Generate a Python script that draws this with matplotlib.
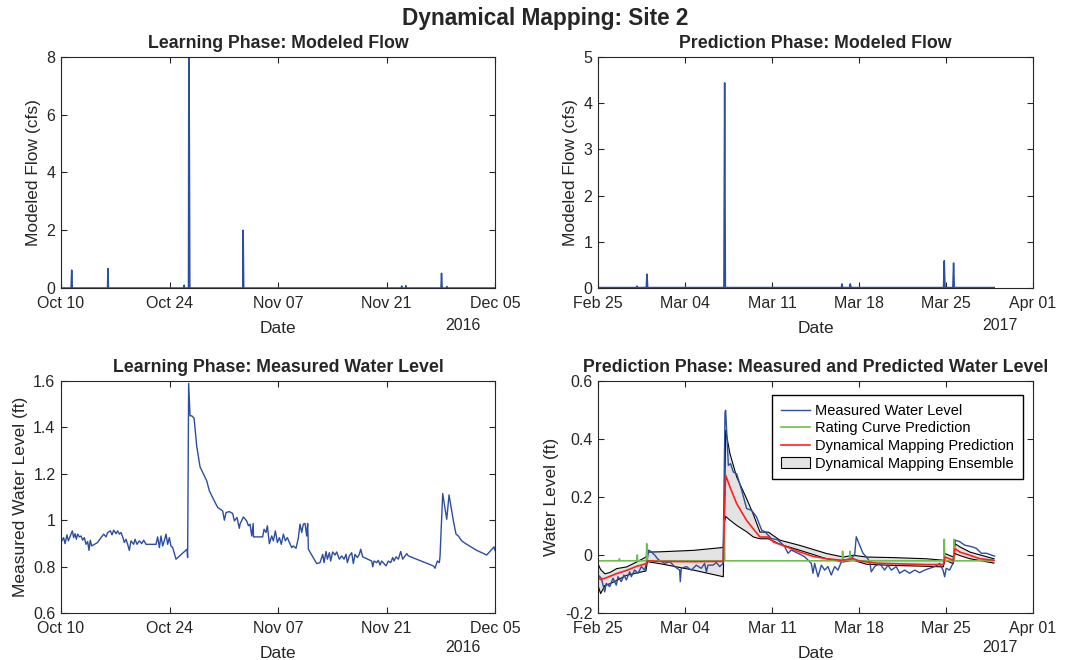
import numpy as np
import pandas as pd
import matplotlib
matplotlib.use('Agg')
import matplotlib.pyplot as plt
import matplotlib.dates as mdates
from matplotlib.patches import Patch

plt.rcParams['font.family'] = ['Liberation Sans', 'DejaVu Sans']

# ---- data (days after start date) ----
learn_start = pd.Timestamp('2016-10-10')
pred_start = pd.Timestamp('2017-02-25')

# learning phase: modeled flow (cfs)
lflow_days = [0, 1.30, 1.38, 1.46, 6.00, 6.06, 6.12, 15.85, 15.90, 15.95,
              16.45, 16.50, 16.58, 16.62, 23.45, 23.50, 23.58,
              43.90, 43.96, 44.02, 44.45, 44.50, 44.56,
              49.03, 49.10, 49.18, 49.75, 49.80, 49.85, 56]
lflow_vals = [0, 0, 0.62, 0, 0, 0.67, 0, 0, 0.10, 0,
              0, 9.5, 3.7, 0, 0, 2.0, 0,
              0, 0.07, 0, 0, 0.08, 0,
              0, 0.51, 0, 0, 0.05, 0, 0]

# learning phase: measured water level (ft)
llevel_days = [0.00, 0.34, 0.52, 0.77, 0.95, 1.20, 1.46, 1.63, 1.81, 1.98, 2.15, 2.37,
               2.58, 2.80, 3.01, 3.23, 3.44, 3.61, 3.78, 3.96, 4.73, 5.16, 5.51, 5.81,
               6.02, 6.37, 6.58, 6.80, 7.10, 7.31, 7.53, 7.74, 7.96, 8.17, 8.39, 8.60,
               8.82, 9.03, 9.38, 9.55, 9.81, 10.11, 10.41, 10.67, 10.97, 12.26, 12.47,
               12.69, 12.90, 13.12, 13.33, 13.55, 13.76, 13.98, 14.19, 14.41, 14.84,
               16.26, 16.34, 16.47, 16.65, 16.87, 17.17, 17.51, 17.94, 18.80, 19.14,
               19.78, 20.22, 20.86, 21.08, 21.29, 21.72, 22.15, 22.37, 22.71, 23.01,
               23.10, 23.53, 23.96, 24.18, 24.39, 24.61, 24.80, 24.84, 26.02, 26.20,
               26.45, 26.63, 26.88, 27.19, 27.40, 27.66, 27.92, 28.18, 28.43, 28.69,
               28.95, 29.21, 29.47, 29.77, 29.98, 30.33, 30.63, 30.84, 31.06, 31.27,
               31.49, 31.70, 31.83, 31.92, 32.99, 33.42, 33.77, 33.94, 34.20, 34.37,
               34.63, 34.80, 35.06, 35.36, 35.57, 35.92, 36.22, 36.52, 36.78, 36.95,
               37.21, 37.51, 37.72, 37.94, 38.24, 38.50, 38.67, 38.93, 40.09, 40.22,
               40.39, 40.73, 40.95, 41.16, 41.38, 41.68, 41.94, 42.24, 42.54, 42.80,
               42.97, 43.23, 43.53, 43.83, 44.09, 44.39, 44.61, 44.82, 48.05, 48.26,
               48.56, 48.82, 48.91, 49.25, 49.77, 50.07, 50.63, 50.97, 51.27, 51.70,
               52.35, 53.64, 54.93, 55.87, 56.00]
llevel_vals = [0.904, 0.925, 0.899, 0.937, 0.911, 0.932, 0.954, 0.925, 0.942, 0.918, 0.940, 0.928,
               0.932, 0.914, 0.925, 0.896, 0.908, 0.870, 0.914, 0.889, 0.904, 0.925, 0.940, 0.928,
               0.947, 0.954, 0.937, 0.957, 0.942, 0.954, 0.940, 0.947, 0.928, 0.904, 0.918, 0.896,
               0.870, 0.911, 0.896, 0.918, 0.896, 0.911, 0.899, 0.914, 0.896, 0.896, 0.928,
               0.882, 0.932, 0.889, 0.911, 0.940, 0.896, 0.925, 0.889, 0.882, 0.832,
               0.875, 0.839, 1.590, 1.450, 1.450, 1.440, 1.320, 1.230, 1.170, 1.127,
               1.083, 1.055, 1.040, 1.000, 1.033, 1.037, 1.029, 0.997, 1.012, 0.965,
               0.983, 1.014, 0.997, 0.976, 0.983, 0.932, 0.986, 0.928, 0.928, 0.961,
               0.947, 0.976, 0.899, 0.932, 0.911, 0.954, 0.904, 0.925, 0.896, 0.940,
               0.911, 0.925, 0.904, 0.882, 0.889, 0.879, 0.925, 0.983, 0.947, 0.983,
               0.986, 0.932, 0.986, 0.875, 0.813, 0.817, 0.853, 0.817, 0.865, 0.832,
               0.860, 0.824, 0.863, 0.850, 0.863, 0.832, 0.846, 0.832, 0.853, 0.817,
               0.846, 0.860, 0.813, 0.853, 0.839, 0.853, 0.875, 0.842, 0.824, 0.799,
               0.824, 0.817, 0.827, 0.807, 0.824, 0.813, 0.803, 0.824, 0.817, 0.839,
               0.824, 0.842, 0.832, 0.865, 0.832, 0.846, 0.856, 0.846, 0.803, 0.793,
               0.824, 0.817, 0.846, 1.115, 1.004, 1.109, 0.997, 0.940, 0.932, 0.911,
               0.896, 0.870, 0.850, 0.885, 0.870]

# prediction phase: modeled flow (cfs)
pflow_days = [0, 3.08, 3.14, 3.20, 3.88, 3.94, 4.00, 10.13, 10.19, 10.25,
              19.58, 19.63, 19.68, 20.24, 20.30, 20.36,
              27.80, 27.86, 27.92, 28.55, 28.61, 28.67, 31.88]
pflow_vals = [0.01, 0.01, 0.04, 0.01, 0.01, 0.30, 0.01, 0.01, 4.44, 0.01,
              0.01, 0.09, 0.01, 0.01, 0.09, 0.01,
              0.01, 0.59, 0.01, 0.01, 0.54, 0.01, 0.01]

# prediction phase: measured water level (ft)
meas_days = [0.00, 0.27, 0.54, 0.67, 0.94, 1.21, 1.47, 1.61, 1.88, 2.09, 2.28, 2.55,
             2.68, 2.95, 3.22, 3.49, 3.75, 3.94, 4.08, 4.29, 4.56, 4.83, 5.36, 5.77,
             6.17, 6.57, 6.62, 6.70, 7.11, 7.51, 7.91, 8.31, 8.58, 8.72, 8.85, 9.25,
             9.52, 9.79, 10.06, 10.22, 10.27, 10.49, 10.67, 10.89, 11.16, 11.56, 11.96,
             12.36, 12.76, 13.17, 13.41, 13.94, 14.48, 15.02, 15.29, 15.55, 16.09, 16.63,
             17.16, 17.30, 17.43, 17.70, 17.97, 18.24, 18.50, 18.77, 19.04, 19.31, 19.58,
             19.98, 20.38, 20.65, 20.78, 21.05, 21.32, 21.59, 21.86, 21.99, 22.26, 22.66,
             23.06, 23.33, 23.60, 24.00, 24.27, 24.67, 25.07, 25.48, 25.88, 26.28, 26.68,
             27.09, 27.49, 27.76, 27.89, 28.02, 28.29, 28.56, 28.75, 29.10, 29.50, 30.03,
             30.44, 30.84, 31.24, 31.64, 31.91]
meas_vals = [-0.069, -0.080, -0.127, -0.098, -0.109, -0.080, -0.104, -0.075, -0.092, -0.069, -0.086, -0.058,
             -0.075, -0.052, -0.063, -0.040, -0.052, -0.023, 0.017, 0.011, 0.000, -0.015, -0.029, -0.023,
             -0.040, -0.052, -0.092, -0.046, -0.040, -0.052, -0.035, -0.046, -0.029, -0.058, -0.035, -0.035,
             -0.026, -0.040, -0.029, 0.493, 0.499, 0.309, 0.315, 0.286, 0.280, 0.223, 0.160,
             0.154, 0.131, 0.085, 0.081, 0.057, 0.052, 0.029, 0.006, 0.017, 0.006, -0.006,
             -0.029, -0.063, -0.029, -0.075, -0.035, -0.052, -0.040, -0.069, -0.040, -0.052, -0.023,
             -0.017, -0.012, 0.000, 0.063, 0.034, 0.006, -0.006, -0.023, -0.058, -0.040, -0.029,
             -0.052, -0.035, -0.052, -0.040, -0.063, -0.052, -0.063, -0.052, -0.061, -0.052, -0.046,
             -0.040, -0.029, -0.052, -0.075, -0.046, -0.052, -0.029, 0.051, 0.046, 0.034, 0.029,
             0.023, 0.006, 0.006, 0.000, -0.004]

# rating curve prediction (ft)
rating_days = [0, 1.70, 1.72, 1.75, 3.13, 3.16, 3.19, 3.89, 3.92, 3.97, 10.12, 10.16, 10.20,
               19.65, 19.68, 19.71, 20.24, 20.27, 20.30, 27.83, 27.86, 27.90,
               28.61, 28.64, 28.68, 31.86]
rating_vals = [-0.020, -0.020, -0.013, -0.020, -0.020, 0.0, -0.020, -0.020, 0.039, -0.020,
               -0.020, 0.119, -0.020, -0.020, 0.013, -0.020, -0.020, 0.013, -0.020,
               -0.020, 0.054, -0.020, -0.020, 0.054, -0.020, -0.020]

# dynamical mapping prediction (ft)
dm_days = [0.00, 0.21, 0.70, 1.50, 2.31, 3.11, 3.86, 3.97, 4.99, 7.67, 10.08, 10.16, 10.27,
           10.62, 11.16, 11.96, 12.76, 13.03, 13.70, 14.11, 15.18, 16.25, 17.32, 18.40,
           19.60, 20.54, 21.08, 22.42, 23.76, 26.44, 27.78, 27.92, 28.59, 28.72, 29.12,
           29.93, 30.73, 31.86]
dm_vals = [-0.076, -0.085, -0.078, -0.064, -0.053, -0.039, -0.030, -0.020, -0.022, -0.023, -0.022, 0.119, 0.275,
           0.234, 0.177, 0.119, 0.076, 0.062, 0.062, 0.045, 0.028, 0.010, -0.005, -0.013,
           -0.018, -0.013, -0.021, -0.028, -0.030, -0.033, -0.033, -0.007, -0.018, 0.022, 0.010,
           -0.001, -0.013, -0.018]

# dynamical mapping ensemble bounds (ft)
ens_days = [0.00, 0.21, 0.56, 0.97, 1.50, 2.31, 3.11, 3.86, 3.97, 4.99, 7.67, 10.08, 10.16,
            10.27, 10.62, 11.16, 11.96, 12.50, 13.03, 13.70, 14.64, 16.25, 18.40, 19.74,
            20.54, 21.61, 23.76, 26.44, 27.78, 27.92, 28.59, 28.72, 29.12, 29.93, 31.86]
ens_upper = [-0.030, -0.050, -0.065, -0.060, -0.047, -0.041, -0.024, -0.007, 0.010, 0.011, 0.016, 0.026, 0.120,
             0.430, 0.349, 0.269, 0.194, 0.140, 0.079, 0.079, 0.051, 0.033, 0.005, -0.007,
             -0.001, -0.007, -0.009, -0.013, -0.018, 0.005, -0.007, 0.039, 0.028, 0.010, -0.013]
ens_lower = [-0.105, -0.133, -0.105, -0.099, -0.088, -0.070, -0.062, -0.055, -0.023, -0.030, -0.052, -0.075, 0.108,
             0.133, 0.120, 0.102, 0.080, 0.062, 0.056, 0.056, 0.037, 0.016, -0.013, -0.024,
             -0.018, -0.032, -0.036, -0.039, -0.041, -0.018, -0.030, 0.005, -0.002, -0.013, -0.028]

BLUE = '#2D4DA0'
GREEN = '#6CC04A'
RED = '#FF1F1F'
DARK = '#262626'


def to_dates(start, days):
    return start + pd.to_timedelta(np.array(days), unit='D')


def style_axes(ax, ticks):
    ax.xaxis.set_major_formatter(mdates.DateFormatter('%b %d'))
    ax.set_xticks(ticks)
    ax.set_xlim(ticks[0], ticks[-1])
    ax.tick_params(direction='in', top=True, right=True, length=4,
                   labelsize=11.5, colors=DARK, pad=4)
    ax.tick_params(axis='x', pad=6)
    for s in ax.spines.values():
        s.set_color(DARK)
        s.set_linewidth(0.8)
    ax.set_xlabel('Date', fontsize=12.5, color=DARK, labelpad=7)


learn_ticks = pd.date_range('2016-10-10', periods=5, freq='14D')
pred_ticks = pd.date_range('2017-02-25', periods=6, freq='7D')

fig = plt.figure(figsize=(10.71, 6.6), dpi=100)
fig.text(0.509, 0.972, 'Dynamical Mapping: Site 2', ha='center', va='center',
         fontsize=16.3, fontweight='bold', color=DARK)

W, H = 1071, 660
ax1 = fig.add_axes([61 / W, 1 - 288 / H, 434 / W, 231 / H])
ax2 = fig.add_axes([598 / W, 1 - 288 / H, 435 / W, 231 / H])
ax3 = fig.add_axes([61 / W, 1 - 613 / H, 434 / W, 232 / H])
ax4 = fig.add_axes([598 / W, 1 - 613 / H, 435 / W, 232 / H])

TSIZE = 12.8
TPAD = 6.5

# top left
ax1.plot(to_dates(learn_start, lflow_days), lflow_vals, color=BLUE, lw=1.1)
ax1.set_ylim(0, 8)
ax1.set_yticks([0, 2, 4, 6, 8])
ax1.set_ylabel('Modeled Flow (cfs)', fontsize=12.5, color=DARK)
ax1.set_title('Learning Phase: Modeled Flow', fontsize=TSIZE, fontweight='bold', color=DARK, pad=TPAD)
style_axes(ax1, learn_ticks)

# top right
ax2.plot(to_dates(pred_start, pflow_days), pflow_vals, color=BLUE, lw=1.1)
ax2.set_ylim(0, 5)
ax2.set_yticks([0, 1, 2, 3, 4, 5])
ax2.set_ylabel('Modeled Flow (cfs)', fontsize=12.5, color=DARK)
ax2.set_title('Prediction Phase: Modeled Flow', fontsize=TSIZE, fontweight='bold', color=DARK, pad=TPAD)
style_axes(ax2, pred_ticks)

# bottom left
ax3.plot(to_dates(learn_start, llevel_days), llevel_vals, color=BLUE, lw=1.0)
ax3.set_ylim(0.6, 1.6)
ax3.set_yticks([0.6, 0.8, 1.0, 1.2, 1.4, 1.6])
ax3.set_yticklabels(['0.6', '0.8', '1', '1.2', '1.4', '1.6'])
ax3.set_ylabel('Measured Water Level (ft)', fontsize=12.5, color=DARK)
ax3.set_title('Learning Phase: Measured Water Level', fontsize=TSIZE, fontweight='bold', color=DARK, pad=TPAD)
style_axes(ax3, learn_ticks)

# bottom right
ens_t = to_dates(pred_start, ens_days)
ax4.fill_between(ens_t, ens_lower, ens_upper, facecolor='#E3E3E3', edgecolor='none')
ax4.plot(ens_t, ens_upper, color='k', lw=0.8)
ax4.plot(ens_t, ens_lower, color='k', lw=0.8)
l1, = ax4.plot(to_dates(pred_start, meas_days), meas_vals, color=BLUE, lw=1.0)
l2, = ax4.plot(to_dates(pred_start, rating_days), rating_vals, color=GREEN, lw=1.2)
l3, = ax4.plot(to_dates(pred_start, dm_days), dm_vals, color=RED, lw=1.2)
ax4.set_ylim(-0.2, 0.6)
ax4.set_yticks([-0.2, 0, 0.2, 0.4, 0.6])
ax4.set_yticklabels(['-0.2', '0', '0.2', '0.4', '0.6'])
ax4.set_ylabel('Water Level (ft)', fontsize=12.5, color=DARK)
ax4.set_title('Prediction Phase: Measured and Predicted Water Level', fontsize=TSIZE,
              fontweight='bold', color=DARK, pad=TPAD)
style_axes(ax4, pred_ticks)

ens_patch = Patch(facecolor='#E3E3E3', edgecolor='k', lw=0.8)
leg = ax4.legend([l1, l2, l3, ens_patch],
                 ['Measured Water Level', 'Rating Curve Prediction',
                  'Dynamical Mapping Prediction', 'Dynamical Mapping Ensemble'],
                 loc='upper right', bbox_to_anchor=(0.977, 0.94), fontsize=10.5,
                 fancybox=False, framealpha=1, edgecolor='k', labelspacing=0.25,
                 handlelength=2.0, borderpad=0.6, borderaxespad=0.0, handletextpad=0.35)
leg.get_frame().set_linewidth(1.0)

# year labels under the date axes
fig.text(463 / W, 1 - 325 / H, '2016', ha='center', va='center', fontsize=11.5, color=DARK)
fig.text(1000 / W, 1 - 325 / H, '2017', ha='center', va='center', fontsize=11.5, color=DARK)
fig.text(463 / W, 1 - 648 / H, '2016', ha='center', va='center', fontsize=11.5, color=DARK)
fig.text(1000 / W, 1 - 648 / H, '2017', ha='center', va='center', fontsize=11.5, color=DARK)

fig.savefig('out.png', dpi=100)
